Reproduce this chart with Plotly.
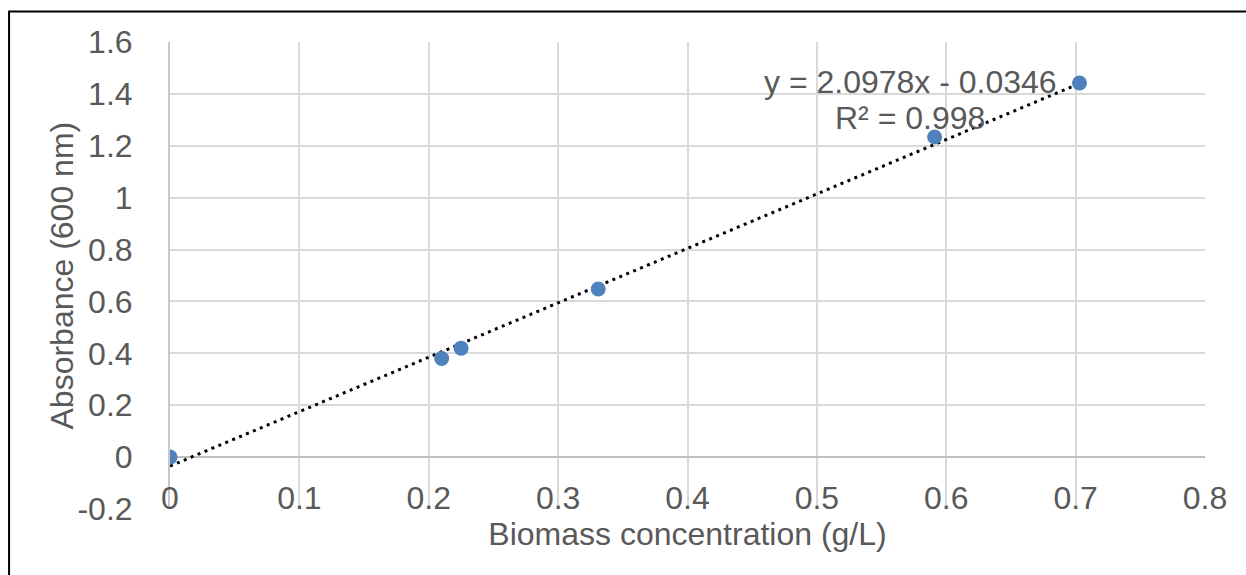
import plotly.graph_objects as go
import numpy as np

# Data
biomass = [0.0, 0.21, 0.225, 0.331, 0.591, 0.703]
absorbance = [0.0, 0.38, 0.42, 0.648, 1.234, 1.442]
slope = 2.0978
intercept = -0.0346
r2 = 0.998
x_ticks = [0, 0.1, 0.2, 0.3, 0.4, 0.5, 0.6, 0.7, 0.8]
y_ticks = [-0.2, 0, 0.2, 0.4, 0.6, 0.8, 1, 1.2, 1.4, 1.6]

FONT = "Liberation Sans, Arial, sans-serif"
TXT = "#595959"
FS = 32

tx = np.array([min(biomass), max(biomass)])
ty = slope * tx + intercept

fig = go.Figure()
fig.add_trace(go.Scatter(x=tx, y=ty, mode="lines",
                         line=dict(color="black", width=3, dash="3px,4.5px"),
                         hoverinfo="skip", showlegend=False))
fig.add_trace(go.Scatter(x=biomass, y=absorbance, mode="markers",
                         marker=dict(color="#4F81BD", size=15),
                         showlegend=False))

fig.add_annotation(x=0.572, y=1.4457, text=f"y = {slope}x - {abs(intercept)}",
                   showarrow=False, font=dict(family=FONT, size=FS, color=TXT),
                   xanchor="center", yanchor="middle")
fig.add_annotation(x=0.572, y=1.307, text=f"R² = {r2}",
                   showarrow=False, font=dict(family=FONT, size=FS, color=TXT),
                   xanchor="center", yanchor="middle")

# y-axis title
fig.add_annotation(xref="paper", yref="paper", x=-0.1053, y=0.5,
                   text="Absorbance (600 nm)", textangle=-90, showarrow=False,
                   font=dict(family=FONT, size=FS, color=TXT),
                   xanchor="center", yanchor="middle")

# outer frame
fig.add_shape(type="rect", xref="paper", yref="paper",
              x0=-0.1555, x1=1.2, y0=-0.3, y1=1.0653,
              line=dict(color="black", width=2), fillcolor="rgba(0,0,0,0)",
              layer="above")

fig.update_layout(
    width=1246, height=575,
    margin=dict(l=170, r=41, t=42, b=66),
    paper_bgcolor="white", plot_bgcolor="white",
    font=dict(family=FONT, size=FS, color=TXT),
    xaxis=dict(range=[0, 0.8], tickvals=x_ticks,
               ticktext=[f"{v:g}" for v in x_ticks],
               showgrid=True, gridcolor="#D9D9D9", gridwidth=1.5,
               zeroline=False, showline=False,
               anchor="free", position=0.2 / 1.8,
               ticks="", ticklabelstandoff=19,
               title=dict(text="Biomass concentration (g/L)", standoff=3,
                          font=dict(size=FS, color=TXT)),
               mirror=False),
    yaxis=dict(range=[-0.2, 1.6], tickvals=y_ticks,
               ticktext=[f"{v:g}" for v in y_ticks],
               showgrid=True, gridcolor="#D9D9D9", gridwidth=1.5,
               zeroline=True, zerolinecolor="#BFBFBF", zerolinewidth=2,
               showline=True, linecolor="#C8C8C8", linewidth=2,
               ticks="", ticklabelstandoff=29),
)

fig.write_html("out.html")
